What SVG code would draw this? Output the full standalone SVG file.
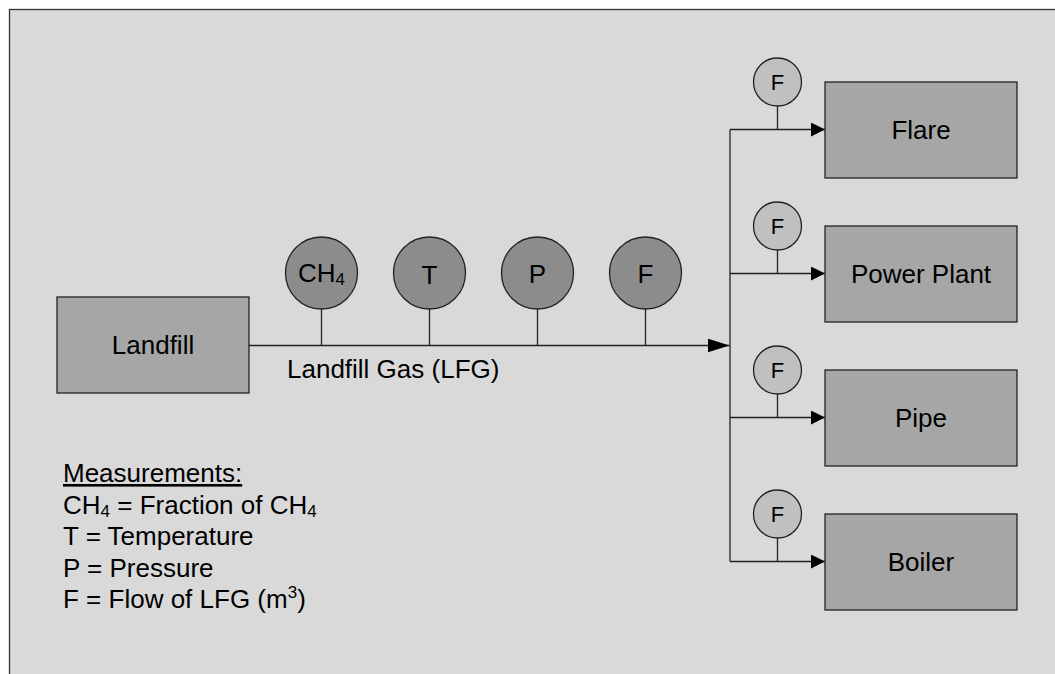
<svg xmlns="http://www.w3.org/2000/svg" width="1055" height="674" viewBox="0 0 1055 674">
<style>
text{font-family:"Liberation Sans",Arial,sans-serif;fill:#000}
.lbl{font-size:26px;text-anchor:middle}
.box{fill:#a6a6a6;stroke:#222;stroke-width:1.3}
.big{fill:#8c8c8c;stroke:#222;stroke-width:1.3}
.small{fill:#c0c0c0;stroke:#222;stroke-width:1.3}
.ln{fill:none;stroke:#222;stroke-width:1.3}
.sl{font-size:22px;text-anchor:middle}
.leg{font-size:26px}
</style>
<defs>
<marker id="arrowL" markerUnits="userSpaceOnUse" markerWidth="22" markerHeight="14" refX="22" refY="7" orient="auto"><path d="M0,0 L22,7 L0,14 z" fill="#000"/></marker>
<marker id="arrowS" markerUnits="userSpaceOnUse" markerWidth="14" markerHeight="14" refX="14" refY="7" orient="auto"><path d="M0,0 L14,7 L0,14 z" fill="#000"/></marker>
</defs>
<rect x="0" y="0" width="1055" height="674" fill="#fff"/>
<rect x="9.5" y="9.5" width="1060" height="680" fill="#d9d9d9" stroke="#333" stroke-width="1.3"/>

<g id="connectors">
<path class="ln" d="M249,345.5 H729.5" marker-end="url(#arrowL)"/>
<path class="ln" d="M730,129.5 V561.5"/>
<path class="ln" d="M730,129.5 H825" marker-end="url(#arrowS)"/>
<path class="ln" d="M730,273.5 H825" marker-end="url(#arrowS)"/>
<path class="ln" d="M730,417.5 H825" marker-end="url(#arrowS)"/>
<path class="ln" d="M730,561.5 H825" marker-end="url(#arrowS)"/>
<path class="ln" d="M321.5,309 V345.5 M429.5,309 V345.5 M537.5,309 V345.5 M645.5,309 V345.5"/>
<path class="ln" d="M777.5,106 V129.5 M777.5,250 V273.5 M777.5,394 V417.5 M777.5,538 V561.5"/>
</g>

<g id="landfill">
<rect class="box" x="57" y="297" width="192" height="96"/>
<text class="lbl" x="153" y="354">Landfill</text>
</g>
<text id="lfg-label" class="leg" x="287" y="378">Landfill Gas (LFG)</text>

<g id="sensor-ch4">
<circle class="big" cx="321.5" cy="273" r="36"/>
<text class="lbl" x="321.5" y="282">CH<tspan font-size="17" dy="3">4</tspan></text>
</g>
<g id="sensor-t">
<circle class="big" cx="429.5" cy="273" r="36"/>
<text class="lbl" x="429.5" y="284" font-size="32">T</text>
</g>
<g id="sensor-p">
<circle class="big" cx="537.5" cy="273" r="36"/>
<text class="lbl" x="537.5" y="282.5">P</text>
</g>
<g id="sensor-f">
<circle class="big" cx="645.5" cy="273" r="36"/>
<text class="lbl" x="645.5" y="282.5">F</text>
</g>

<g id="flow-flare">
<circle class="small" cx="777.5" cy="82" r="24"/>
<text class="sl" x="777.5" y="90">F</text>
</g>
<g id="flow-power">
<circle class="small" cx="777.5" cy="226" r="24"/>
<text class="sl" x="777.5" y="234">F</text>
</g>
<g id="flow-pipe">
<circle class="small" cx="777.5" cy="370" r="24"/>
<text class="sl" x="777.5" y="378">F</text>
</g>
<g id="flow-boiler">
<circle class="small" cx="777.5" cy="514" r="24"/>
<text class="sl" x="777.5" y="522">F</text>
</g>

<g id="flare">
<rect class="box" x="825" y="82" width="192" height="96"/>
<text class="lbl" x="921" y="139">Flare</text>
</g>
<g id="power-plant">
<rect class="box" x="825" y="226" width="192" height="96"/>
<text class="lbl" x="921" y="283">Power Plant</text>
</g>
<g id="pipe">
<rect class="box" x="825" y="370" width="192" height="96"/>
<text class="lbl" x="921" y="427">Pipe</text>
</g>
<g id="boiler">
<rect class="box" x="825" y="514" width="192" height="96"/>
<text class="lbl" x="921" y="571">Boiler</text>
</g>

<g id="legend">
<text class="leg" x="63" y="482" text-decoration="underline">Measurements:</text>
<text class="leg" x="63" y="513.5">CH<tspan font-size="17" dy="3">4</tspan><tspan dy="-3"> = Fraction of CH</tspan><tspan font-size="17" dy="3">4</tspan></text>
<text class="leg" x="63" y="545">T = Temperature</text>
<text class="leg" x="63" y="576.5">P = Pressure</text>
<text class="leg" x="63" y="608">F = Flow of LFG (m<tspan font-size="17" dy="-10">3</tspan><tspan dy="10">)</tspan></text>
</g>
</svg>
